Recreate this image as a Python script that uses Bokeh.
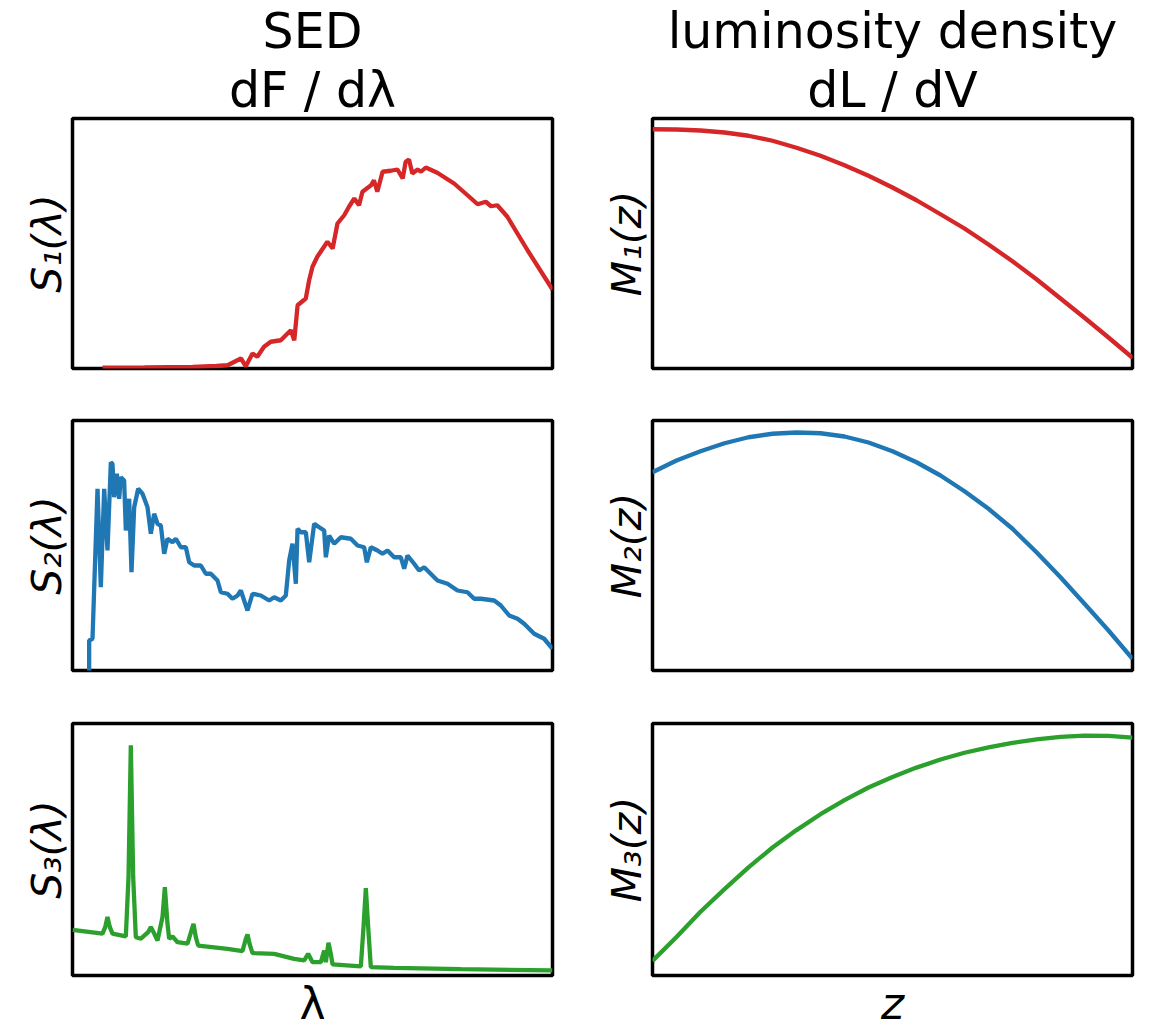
from bokeh.plotting import figure
from bokeh.models import Title, Range1d
from bokeh.layouts import column, row
from bokeh.embed import file_html
from bokeh.resources import INLINE

# ---- data (arbitrary normalised units) ----
s1_lam = [6.25, 15, 25, 30, 32.3, 35.1, 36.1, 37.5, 38.5, 39.9, 41.3, 43.4, 44.8, 45.5, 46.2, 46.9,
          48.6, 49.3, 50.0, 51.0, 52.4, 53.1, 54.2, 55.2, 56.6, 57.6, 58.7, 59.7, 60.4, 62.2, 62.8,
          63.5, 64.6, 66.3, 67.7, 68.8, 69.4, 70.1, 70.8, 71.9, 72.6, 73.6, 76.0, 79.5, 82.3, 84.4,
          86.1, 87.2, 88.5, 90.6, 94.8, 100]
s1_val = [0.3, 0.4, 0.6, 1.0, 1.3, 4.0, 0.9, 6.0, 4.7, 8.7, 10.7, 11.3, 14.0, 15.3, 11.3, 25.3,
          28.0, 35.3, 40.7, 44.7, 48.7, 50.7, 48.0, 58.0, 61.3, 64.7, 68.0, 65.3, 70.7, 73.3, 75.3,
          70.7, 78.7, 79.1, 79.6, 76.0, 82.7, 83.6, 78.0, 79.6, 78.7, 80.4, 78.3, 74.0, 69.3, 65.7,
          66.7, 64.9, 65.3, 60.7, 47.3, 31.6]

s2_lam = [3.47, 3.47, 4.17, 5.21, 5.90, 6.60, 7.29, 7.99, 8.33, 8.68, 9.24, 9.72, 10.07, 10.76,
          11.11, 11.81, 12.29, 12.85, 13.68, 14.58, 15.63, 16.32, 17.01, 17.71, 18.40, 19.10, 19.79,
          20.83, 21.53, 22.57, 23.61, 24.31, 25.35, 26.74, 27.78, 28.82, 30.21, 30.90, 32.29, 33.33,
          34.38, 35.07, 35.76, 36.46, 37.50, 39.24, 40.97, 42.01, 43.40, 44.44, 45.14, 45.83, 46.53,
          46.88, 47.57, 48.61, 49.31, 50.35, 51.39, 52.43, 52.78, 53.47, 54.51, 55.90, 57.99, 59.38,
          60.76, 61.32, 62.15, 63.54, 64.58, 65.63, 67.01, 68.40, 69.10, 69.79, 71.18, 72.22, 73.26,
          76.04, 78.13, 80.21, 82.29, 83.68, 85.07, 87.85, 89.24, 90.97, 92.71, 94.10, 96.18, 98.26,
          100]
s2_val = [-2, 12.0, 12.7, 72.7, 33.3, 72.7, 48.0, 83.3, 82.7, 69.3, 78.7, 68.7, 77.3, 76.0,
          56.0, 68.7, 39.3, 65.3, 72.7, 70.7, 65.3, 54.7, 62.7, 58.7, 58.0, 46.7, 52.7,
          51.3, 52.7, 49.3, 49.3, 43.3, 42.0, 42.0, 38.7, 38.7, 36.0, 31.3, 30.7, 28.7,
          30.0, 32.0, 28.0, 24.0, 30.7, 30.0, 28.0, 29.3, 28.0, 30.0, 44.0, 50.7, 34.7,
          56.7, 55.3, 55.3, 43.3, 58.7, 57.3, 56.0, 45.3, 54.0, 50.7, 53.3, 52.7, 50.0,
          49.3, 43.3, 49.3, 48.0, 46.7, 48.0, 45.3, 45.3, 40.7, 46.0, 42.7, 40.0, 41.3,
          36.0, 34.7, 32.0, 31.3, 28.7, 28.7, 28.0, 26.0, 22.0, 20.7, 18.7, 14.7, 12.7,
          8.7]

s3_lam = [0.0, 6.25, 6.81, 7.29, 7.78, 8.33, 11.11, 11.67, 12.15, 12.64, 13.19, 14.24, 15.76,
          16.32, 16.88, 17.71, 18.75, 19.24, 19.79, 20.14, 20.83, 21.88, 23.96, 24.79, 25.21,
          25.69, 26.18, 32.29, 35.42, 36.11, 36.46, 36.88, 37.50, 42.01, 46.18, 48.26, 49.10,
          50.0, 51.74, 52.43, 52.78, 53.33, 53.82, 54.17, 60.07, 60.63, 61.11, 61.60, 62.15,
          67.01, 80.90, 100]
s3_val = [18.1, 16.6, 19.2, 23.2, 19.2, 16.6, 15.5, 39.1, 91.4, 39.1, 15.2, 14.6, 17.2,
          19.2, 17.2, 13.9, 23.2, 35.1, 20.5, 14.6, 15.5, 13.2, 12.6, 17.9, 20.5,
          15.2, 11.9, 10.6, 9.7, 14.6, 16.3, 12.6, 8.9, 8.6, 6.6, 6.0, 8.6,
          5.3, 5.3, 9.9, 5.3, 13.0, 8.6, 4.4, 3.6, 19.2, 34.7, 19.2, 3.3,
          3.0, 2.5, 2.0]

z_grid = [0, 5, 10, 15, 20, 25, 30, 35, 40, 45, 50, 55, 60, 65, 70, 75, 80, 85, 90, 95, 100]
m1_val = [95.7, 95.6, 95.2, 94.4, 93.1, 91.1, 88.3, 85.1, 81.3, 77.1, 72.4, 67.3, 61.7, 56.0,
          49.6, 42.9, 35.7, 28.0, 20.3, 12.4, 4.3]
m2_val = [79.3, 84.0, 87.7, 90.9, 93.3, 94.7, 95.2, 94.9, 93.6, 91.2, 87.7, 83.3, 78.0, 71.7,
          64.7, 56.7, 47.3, 37.3, 26.7, 16.0, 4.7]
m3_val = [5.8, 15.3, 25.3, 34.3, 42.9, 50.8, 57.7, 64.0, 69.6, 74.6, 78.8, 82.5, 85.7, 88.4,
          90.5, 92.3, 93.7, 94.7, 95.2, 95.1, 94.4]

col_titles = [["SED", "dF / d\u03bb"], ["luminosity density", "dL / dV"]]
s_labels = ["S\u2081(\u03bb)", "S\u2082(\u03bb)", "S\u2083(\u03bb)"]
m_labels = ["M\u2081(z)", "M\u2082(z)", "M\u2083(z)"]
x_labels = ["\u03bb", "z"]

colors = ["#d62728", "#1f77b4", "#2ca02c"]
FONT = "DejaVu Sans"


def make(xs, ys, color, ylabel, left, right, top, bottom, fh, titles=None, xlabel=None,
         xlabel_italic=False):
    p = figure(frame_width=480, frame_height=fh, x_range=Range1d(0, 100), y_range=Range1d(0, 100),
               output_backend="svg", toolbar_location=None, title=None,
               min_border_left=left, min_border_right=right, min_border_top=top,
               min_border_bottom=bottom, background_fill_color="white", border_fill_color="white")
    p.line(xs, ys, line_width=4.3, line_color=color)
    p.axis.visible = False
    p.grid.visible = False
    p.outline_line_color = "black"
    p.outline_line_width = 3.5
    p.outline_line_alpha = 1.0
    p.add_layout(Title(text=ylabel, align="center", text_font_size="41px", text_font=FONT,
                       text_font_style="italic", text_color="black", standoff=4), "left")
    if titles:
        p.add_layout(Title(text=titles[1], align="center", text_font_size="49px", text_font=FONT,
                           text_font_style="normal", text_color="black", standoff=0), "above")
        p.add_layout(Title(text=titles[0], align="center", text_font_size="49px", text_font=FONT,
                           text_font_style="normal", text_color="black", standoff=0), "above")
    if xlabel:
        p.add_layout(Title(text=xlabel, align="center", text_font_size="44px", text_font=FONT,
                           text_font_style="italic" if xlabel_italic else "normal",
                           text_color="black", standoff=0), "below")
    return p


s_x = [s1_lam, s2_lam, s3_lam]
s_y = [s1_val, s2_val, s3_val]
m_y = [m1_val, m2_val, m3_val]

tops = [118, 26, 27]
bottoms = [26, 26, 52]
fhs = [250, 250, 252]

rows = []
for i in range(3):
    lp = make(s_x[i], s_y[i], colors[i], s_labels[i], 72, 46, tops[i], bottoms[i], fhs[i],
              titles=col_titles[0] if i == 0 else None,
              xlabel=x_labels[0] if i == 2 else None)
    rp = make(z_grid, m_y[i], colors[i], m_labels[i], 50, 21, tops[i], bottoms[i], fhs[i],
              titles=col_titles[1] if i == 0 else None,
              xlabel=x_labels[1] if i == 2 else None, xlabel_italic=True)
    rows.append(row(lp, rp))

layout = column(*rows)
open("out.html", "w").write(file_html(layout, INLINE))
